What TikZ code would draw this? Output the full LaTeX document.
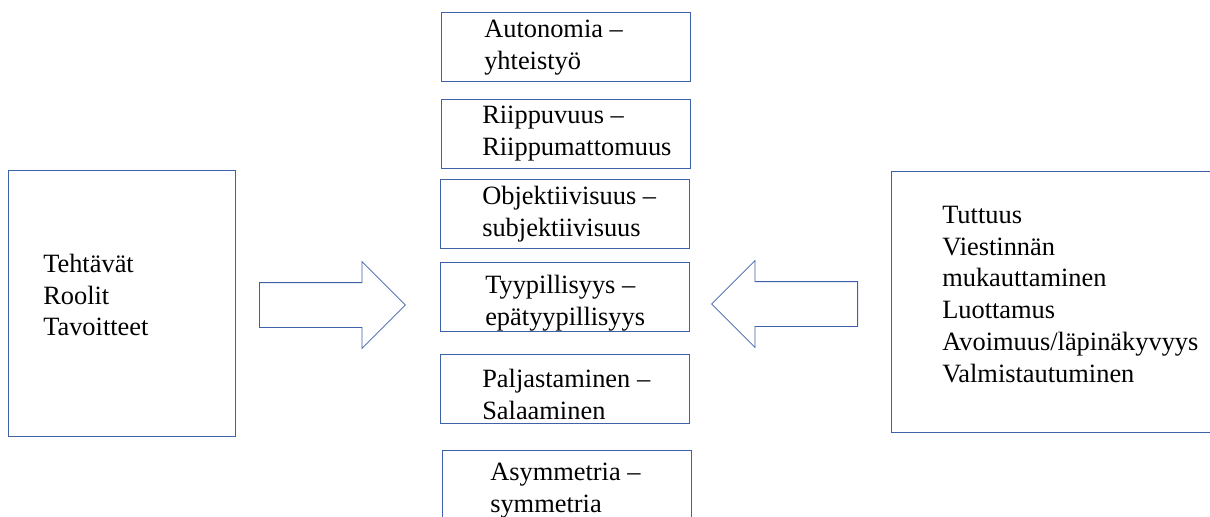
\documentclass[tikz,border=0pt]{standalone}
\usepackage{fontspec}
\setmainfont{Liberation Serif}
\usetikzlibrary{shapes.arrows}
\definecolor{kehys}{RGB}{62,98,170}

\begin{document}
\begin{tikzpicture}[x=0.75pt,y=-0.75pt,
  pole/.style={draw=kehys,line width=0.8pt,anchor=north west,inner sep=0pt,minimum width=186.75pt,minimum height=#1},
  pole/.default=52pt,
  teksti/.style={anchor=north west,align=left,inner sep=0pt,font=\fontsize{19.8}{23.8}\selectfont},
  nuoli/.style={draw=kehys,line width=0.6pt,single arrow,single arrow head extend=15.75pt,minimum width=64.5pt,minimum height=109.5pt,inner xsep=0pt,inner ysep=16.5pt,anchor=tail}]
  \useasboundingbox[fill=white] (0,0) rectangle (1210,517);
  \node[pole] (autonomia) at (441,12) {};
  \node[pole] (riippuvuus) at (441,99) {};
  \node[pole] (objektiivisuus) at (440,179) {};
  \node[pole] (tyypillisyys) at (440,262) {};
  \node[pole] (paljastaminen) at (440,354) {};
  \node[pole=62pt] (asymmetria) at (442,450) {};
  \node[pole,minimum width=170.25pt,minimum height=199.5pt] (tehtavat) at (8,170) {};
  \node[pole,minimum width=255pt,minimum height=195.75pt] (tuttuus) at (891,171) {};
  \node[teksti] at (484,15) {\strut Autonomia –\\yhteistyö};
  \node[teksti] at (482,101) {\strut Riippuvuus –\\Riippumattomuus};
  \node[teksti] at (482,182) {\strut Objektiivisuus –\\subjektiivisuus};
  \node[teksti] at (485,271) {\strut Tyypillisyys –\\epätyypillisyys};
  \node[teksti] at (482,365) {\strut Paljastaminen –\\Salaaminen};
  \node[teksti] at (490,458) {\strut Asymmetria –\\symmetria};
  \node[teksti] at (43,250) {\strut Tehtävät\\Roolit\\Tavoitteet};
  \node[teksti] at (942,201) {\strut Tuttuus\\Viestinnän\\mukauttaminen\\Luottamus\\Avoimuus/läpinäkyvyys\\Valmistautuminen};
  \node[nuoli] (oikealle) at (259,305) {};
  \node[nuoli,shape border rotate=180] (vasemmalle) at (858,304) {};
\end{tikzpicture}
\end{document}
